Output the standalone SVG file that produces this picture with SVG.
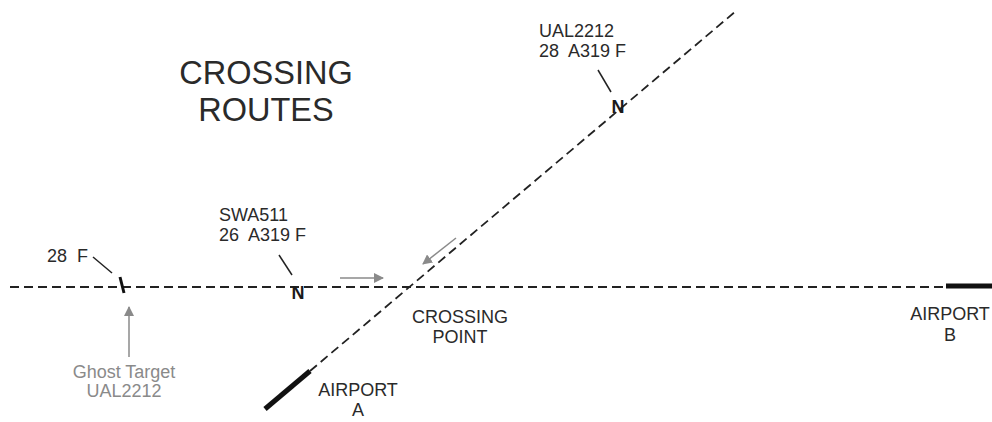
<svg xmlns="http://www.w3.org/2000/svg" width="992" height="422" viewBox="0 0 992 422">
<defs>
<style>
text{font-family:"Liberation Sans",Arial,sans-serif;fill:#2a2a2a}
.lbl{font-size:18px}
.ctr{font-size:18px;text-anchor:middle}
.title{font-size:32.5px;text-anchor:middle}
.gray{fill:#8a8a8a;font-size:18px;text-anchor:middle}
.n{font-size:18px;font-weight:bold;text-anchor:middle;fill:#1a1a1a}
.route{stroke:#222;stroke-width:1.8;fill:none;stroke-dasharray:9 5}
.rwy{stroke:#111;stroke-width:5;fill:none}
.lead{stroke:#222;stroke-width:1.5;fill:none}
.garrow{stroke:#8a8a8a;stroke-width:1.5;fill:none}
</style>
<marker id="ah" viewBox="0 0 10 10" refX="9" refY="5" markerWidth="10" markerHeight="10" markerUnits="userSpaceOnUse" orient="auto">
<path d="M0,0 L10,5 L0,10 z" fill="#8a8a8a"/>
</marker>
</defs>
<rect width="992" height="422" fill="#fff"/>
<g id="connectors">
<line class="route" x1="10" y1="287" x2="946" y2="287"/>
<line class="route" x1="310" y1="371" x2="736" y2="11"/>
<line class="garrow" x1="129" y1="357" x2="129" y2="307" marker-end="url(#ah)"/>
<line class="garrow" x1="340" y1="278" x2="383" y2="278" marker-end="url(#ah)"/>
<line class="garrow" x1="456" y1="238" x2="423" y2="264" marker-end="url(#ah)"/>
</g>
<g id="title"><text class="title" x="266" y="84">CROSSING</text><text class="title" x="266" y="121">ROUTES</text></g>
<g id="airport-a"><line class="rwy" x1="265" y1="409" x2="310" y2="371"/><text class="ctr" x="358" y="396">AIRPORT</text><text class="ctr" x="358" y="416">A</text></g>
<g id="airport-b"><line class="rwy" x1="946" y1="286" x2="992" y2="286"/><text class="ctr" x="950" y="320">AIRPORT</text><text class="ctr" x="950" y="341">B</text></g>
<g id="crossing-point"><text class="ctr" x="460" y="323">CROSSING</text><text class="ctr" x="460" y="343">POINT</text></g>
<g id="ghost"><line stroke="#111" stroke-width="3" x1="120" y1="277" x2="124" y2="293"/><line class="lead" x1="93" y1="257" x2="112" y2="273"/><text class="lbl" x="47" y="262" xml:space="preserve">28  F</text><text class="gray" x="124" y="378">Ghost Target</text><text class="gray" x="124" y="397">UAL2212</text></g>
<g id="swa511"><text class="n" x="298" y="299">N</text><line class="lead" x1="279" y1="255" x2="292" y2="275"/><text class="lbl" x="219" y="221" xml:space="preserve">SWA511</text><text class="lbl" x="219" y="241" xml:space="preserve">26  A319 F</text></g>
<g id="ual2212"><text class="n" x="618" y="113">N</text><line class="lead" x1="598" y1="70" x2="611" y2="92"/><text class="lbl" x="539" y="37" xml:space="preserve">UAL2212</text><text class="lbl" x="539" y="57" xml:space="preserve">28  A319 F</text></g>
</svg>
